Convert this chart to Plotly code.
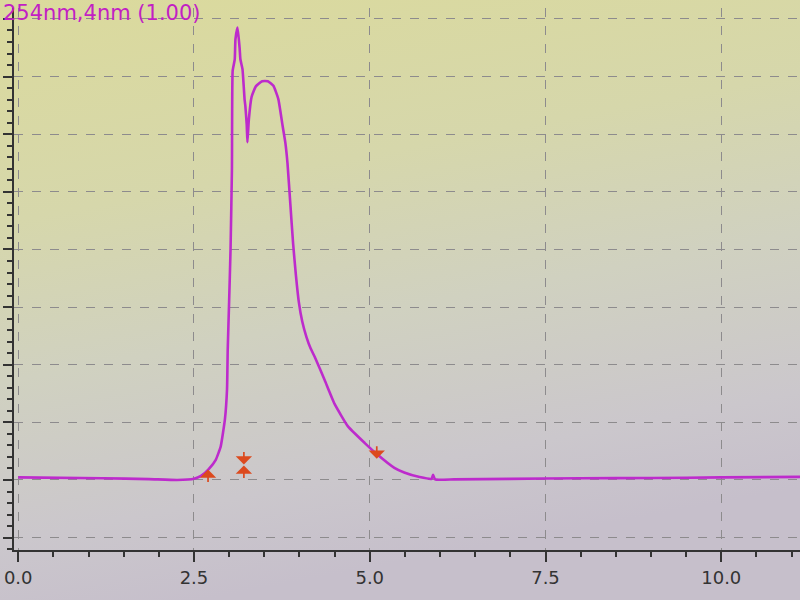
import base64
import plotly.graph_objects as go

# ---- data ----
time_min = [0.0, 1.2, 1.86, 2.26, 2.5, 2.6, 2.71, 2.81, 2.88, 2.94, 2.97, 2.98, 3.00,
            3.02, 3.04, 3.05, 3.08, 3.09, 3.12, 3.15, 3.16, 3.19, 3.22, 3.23, 3.25, 3.26,
            3.28, 3.32, 3.38, 3.47, 3.55, 3.63, 3.70, 3.76, 3.80, 3.83, 3.87, 3.91, 3.95,
            3.99, 4.04, 4.10, 4.16, 4.22, 4.36, 4.50, 4.69, 4.93, 5.10, 5.35, 5.49, 5.71,
            5.88, 5.90, 5.93, 6.2, 7.0, 8.0, 9.0, 10.0, 11.2]
signal = [0.45, 0.3, 0.15, 0.0, 0.2, 0.7, 1.9, 3.5, 5.8, 10.5, 15.7, 22.6, 31.0,
          40.0, 54.0, 71.0, 73.0, 76.5, 78.5, 74.8, 73.0, 71.3, 66.0, 65.0, 61.7, 58.6,
          62.5, 66.5, 68.3, 69.2, 69.2, 68.4, 66.1, 61.5, 58.5, 55.0, 48.0, 41.0, 35.5,
          31.0, 27.5, 24.8, 22.8, 21.3, 17.3, 13.2, 9.3, 6.4, 4.5, 2.1, 1.3, 0.5,
          0.2, 0.9, 0.1, 0.1, 0.2, 0.3, 0.35, 0.45, 0.55]

marker_times = [2.70, 3.21, 3.21, 5.10]
marker_values = [1.8, 2.7, 2.5, 3.7]
marker_dirs = ["up", "down", "up", "down"]

x_tick_vals = [0.0, 2.5, 5.0, 7.5, 10.0]
x_tick_text = ["0.0", "2.5", "5.0", "7.5", "10.0"]

title_text = "254nm,4nm (1.00)"

# ---- styling ----
LINE = "#bd2bcc"
GRID = "#8d8b8d"
MARK = "#dc4a1e"
L, R, T, B = 14, 0, 8, 50
PW, PH = 800 - L - R, 600 - T - B

fig = go.Figure()
fig.add_trace(go.Scatter(x=time_min, y=signal, mode="lines",
                         line=dict(color=LINE, width=2.6, shape="spline", smoothing=0.4),
                         hoverinfo="skip", showlegend=False))

for t, v, d in zip(marker_times, marker_values, marker_dirs):
    fig.add_annotation(x=t, y=v, xref="x", yref="y", text="", showarrow=True,
                       ax=0, ay=(14 if d == "up" else -14),
                       arrowhead=1, arrowsize=1.6, arrowwidth=1.7,
                       arrowcolor=MARK)

fig.add_annotation(x=-(L - 1) / PW, y=1 - 5 / PH, xref="paper", yref="paper",
                   xanchor="left", yanchor="middle", text=title_text,
                   showarrow=False,
                   font=dict(family="DejaVu Sans", size=21, color="#c21fc4"))

svg = ('<svg xmlns="http://www.w3.org/2000/svg" width="800" height="600" '
       'preserveAspectRatio="none">'
       '<defs><linearGradient id="g" x1="0" y1="0" x2="0.25" y2="1">'
       '<stop offset="0" stop-color="#dbda9c"/>'
       '<stop offset="0.35" stop-color="#d6d7ab"/>'
       '<stop offset="0.6" stop-color="#d0d1c0"/>'
       '<stop offset="0.85" stop-color="#cbc7cc"/>'
       '<stop offset="1" stop-color="#c6bfcb"/>'
       '</linearGradient></defs>'
       '<rect width="800" height="600" fill="url(#g)"/></svg>')
src = "data:image/svg+xml;base64," + base64.b64encode(svg.encode()).decode()
fig.add_layout_image(source=src, xref="paper", yref="paper",
                     x=-L / PW, y=1 + T / PH, sizex=800 / PW, sizey=600 / PH,
                     xanchor="left", yanchor="top", sizing="stretch",
                     layer="below", opacity=1)

fig.update_layout(
    width=800, height=600,
    margin=dict(l=L, r=R, t=T, b=B),
    paper_bgcolor="#cdc8c6",
    plot_bgcolor="rgba(0,0,0,0)",
    font=dict(family="DejaVu Sans", color="#333333"),
    showlegend=False,
)
fig.update_xaxes(range=[-0.06, 11.12], tickmode="array", tickvals=x_tick_vals,
                 ticktext=x_tick_text, ticks="outside", ticklen=10, tickwidth=1.5,
                 tickcolor="#333333", showline=True, linecolor="#333333", linewidth=2,
                 tickfont=dict(size=18, color="#333333"), automargin=False,
                 ticklabeloverflow="allow",
                 showgrid=True, gridcolor=GRID, griddash="dash", gridwidth=1.4,
                 zeroline=False,
                 minor=dict(dtick=0.5, ticks="outside", ticklen=5, tickcolor="#333333",
                            showgrid=False))
fig.update_yaxes(range=[-12.15, 81.9], dtick=10, tick0=0, showticklabels=False,
                 ticks="outside", ticklen=9, tickwidth=1.5, tickcolor="#333333",
                 showline=True, linecolor="#333333", linewidth=2, automargin=False,
                 showgrid=True, gridcolor=GRID, griddash="dash", gridwidth=1.4,
                 zeroline=False,
                 minor=dict(dtick=2, ticks="outside", ticklen=5, tickcolor="#333333",
                            showgrid=False))

fig.write_html("out.html", config={"displayModeBar": False},
               post_script="document.body.style.margin='0';document.body.style.padding='0';")
